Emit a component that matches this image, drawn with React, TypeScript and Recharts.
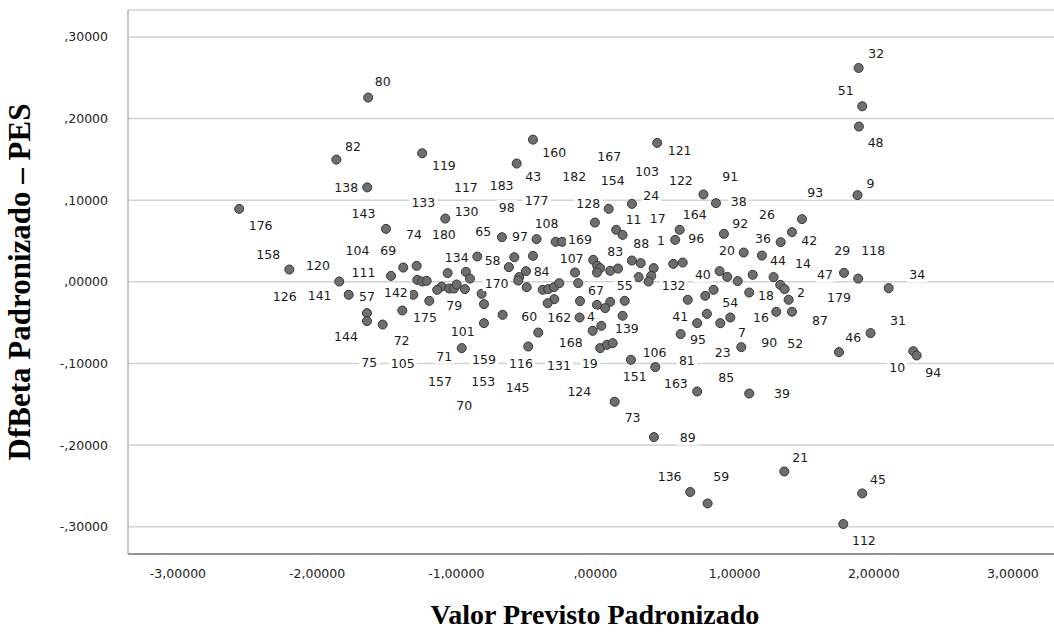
import React from 'react';
import { ScatterChart, Scatter, XAxis, YAxis, CartesianGrid } from 'recharts';

// Valor previsto padronizado (x) vs DfBeta padronizado de PES (y), one pair per case
const cases: [number, number][] = [
  [-1.633, 0.2257], [-1.862, 0.1497], [-1.64, 0.1157], [-1.245, 0.1576], [-0.449, 0.1742],
  [-0.566, 0.1449], [0.444, 0.1702], [1.891, 0.262], [1.917, 0.2151], [1.893, 0.1902],
  [1.883, 0.1062], [0.776, 0.1071], [0.866, 0.0964],
  [-2.56, 0.0894], [-2.2, 0.0151], [-1.841, 0.0004], [-1.773, -0.0159], [-1.642, -0.0383], [-1.642, -0.0481],
  [-1.079, 0.0775], [-1.505, 0.0649], [-0.672, 0.0547], [-0.423, 0.0523], [-0.286, 0.049],
  [-0.239, 0.049], [-0.004, 0.0726], [-0.849, 0.031], [-0.583, 0.0302], [-0.449, 0.0318],
  [-0.622, 0.018], [-0.499, 0.0131], [-0.548, 0.0058], [-0.555, 0.0016], [-0.494, -0.0065],
  [-1.381, 0.0175], [-1.285, 0.0196], [-1.469, 0.0073], [-1.28, 0.0024], [-1.245, 0.0004],
  [-1.213, 0.0012], [-1.062, 0.0107], [-0.931, 0.0122], [-0.902, 0.004], [-1.105, -0.0058],
  [-1.137, -0.0098], [-1.051, -0.0082], [-1.017, -0.0082], [-0.997, -0.0033], [-0.938, -0.0089],
  [-1.309, -0.0159], [-1.194, -0.0233], [-0.818, -0.0147], [-0.801, -0.0273], [-1.388, -0.0351],
  [-1.529, -0.0523], [-0.801, -0.0506], [-0.667, -0.0404], [-0.379, -0.0098], [-0.339, -0.0089],
  [-0.298, -0.0065], [-0.26, -0.0016], [-0.296, -0.0212], [-0.343, -0.0261], [-0.147, 0.0114],
  [-0.124, -0.0016], [-0.111, -0.0236], [-0.114, -0.0437], [-0.411, -0.0621], [-0.483, -0.0792],
  [-0.961, -0.0812], [-0.016, 0.0269], [0.013, 0.0196], [-0.02, -0.06],
  [0.262, 0.0955], [0.095, 0.0894], [0.149, 0.0637], [0.195, 0.0575], [0.605, 0.0637],
  [0.573, 0.0514], [0.923, 0.0588], [1.065, 0.0359], [1.196, 0.0322], [1.331, 0.0486],
  [1.412, 0.0609], [1.484, 0.0768], [0.034, 0.0168], [0.011, 0.0114], [0.106, 0.0135],
  [0.162, 0.0163], [0.262, 0.0261], [0.325, 0.0229], [0.418, 0.0168], [0.401, 0.0073],
  [0.382, 0.0004], [0.31, 0.0058], [0.559, 0.022], [0.627, 0.0236], [0.892, 0.0131],
  [0.947, 0.0061], [1.022, 0.0009], [1.13, 0.0086], [1.28, 0.0058], [1.328, -0.0037],
  [1.359, -0.0089], [1.388, -0.022], [1.412, -0.0367], [1.299, -0.0367], [1.105, -0.0131],
  [0.849, -0.0098], [0.789, -0.0171], [0.663, -0.022], [0.801, -0.0392], [0.969, -0.0437],
  [0.897, -0.0506], [0.731, -0.0506], [0.612, -0.064], [1.048, -0.08], [0.21, -0.0233],
  [0.106, -0.0245], [0.07, -0.0322], [0.011, -0.0282], [0.042, -0.0539], [0.195, -0.0416],
  [0.034, -0.0812], [0.083, -0.0771], [0.124, -0.0751], [0.255, -0.0955], [0.43, -0.1044],
  [0.138, -0.1469], [0.731, -0.1343], [1.105, -0.1368], [0.42, -0.1902], [1.357, -0.2323],
  [0.681, -0.2575], [0.806, -0.2715],
  [1.786, 0.011], [1.888, 0.004], [2.107, -0.0077], [1.977, -0.0628], [1.75, -0.0861],
  [2.284, -0.0849], [2.308, -0.0902],
  [1.917, -0.2592], [1.781, -0.2967],
];

// case number tags and where they sit (same units as the axes)
const caseTags: [number, number, number][] = [
  [80, -1.529, 0.245], [82, -1.742, 0.166], [138, -1.791, 0.115], [119, -1.089, 0.143],
  [160, -0.296, 0.158], [43, -0.447, 0.129], [182, -0.152, 0.129], [117, -0.931, 0.115],
  [183, -0.674, 0.118], [133, -1.237, 0.097], [177, -0.423, 0.1], [121, 0.605, 0.161],
  [167, 0.099, 0.153], [154, 0.124, 0.124], [103, 0.37, 0.135], [122, 0.614, 0.124],
  [91, 0.969, 0.129], [93, 1.579, 0.11], [24, 0.401, 0.106], [32, 2.018, 0.28],
  [51, 1.798, 0.235], [48, 2.013, 0.171], [9, 1.977, 0.12], [176, -2.406, 0.069],
  [158, -2.351, 0.034], [120, -1.994, 0.02], [126, -2.233, -0.018], [141, -1.982, -0.017],
  [57, -1.642, -0.018], [144, -1.793, -0.067], [143, -1.667, 0.084], [104, -1.71, 0.039],
  [111, -1.667, 0.011], [69, -1.489, 0.039], [130, -0.926, 0.086], [98, -0.638, 0.091],
  [128, -0.052, 0.096], [108, -0.351, 0.072], [74, -1.304, 0.058], [180, -1.089, 0.058],
  [65, -0.806, 0.062], [97, -0.542, 0.056], [169, -0.111, 0.052], [134, -0.997, 0.03],
  [58, -0.739, 0.026], [107, -0.171, 0.029], [84, -0.387, 0.013], [170, -0.71, -0.002],
  [142, -1.434, -0.013], [79, -1.015, -0.029], [175, -1.225, -0.044], [60, -0.476, -0.043],
  [162, -0.26, -0.044], [4, -0.032, -0.043], [101, -0.954, -0.061], [168, -0.178, -0.074],
  [72, -1.393, -0.072], [71, -1.086, -0.091], [159, -0.801, -0.095], [116, -0.535, -0.1],
  [131, -0.262, -0.102], [19, -0.04, -0.1], [75, -1.625, -0.099], [105, -1.385, -0.1],
  [157, -1.117, -0.122], [153, -0.806, -0.122], [145, -0.559, -0.129], [124, -0.116, -0.134],
  [70, -0.943, -0.151], [11, 0.274, 0.076], [17, 0.447, 0.078], [164, 0.713, 0.083],
  [38, 1.029, 0.098], [26, 1.232, 0.083], [92, 1.04, 0.071], [1, 0.471, 0.051],
  [96, 0.724, 0.053], [36, 1.204, 0.053], [42, 1.536, 0.051], [88, 0.329, 0.047],
  [83, 0.142, 0.037], [20, 0.945, 0.038], [44, 1.311, 0.026], [14, 1.491, 0.023],
  [47, 1.649, 0.009], [40, 0.772, 0.009], [132, 0.562, -0.004], [55, 0.21, -0.004],
  [67, 0.004, -0.01], [18, 1.225, -0.017], [2, 1.477, -0.013], [54, 0.969, -0.025],
  [16, 1.189, -0.044], [41, 0.609, -0.042], [139, 0.226, -0.057], [87, 1.613, -0.047],
  [7, 1.053, -0.062], [95, 0.737, -0.071], [90, 1.249, -0.074], [52, 1.436, -0.075],
  [23, 0.914, -0.087], [106, 0.425, -0.087], [81, 0.657, -0.096], [151, 0.282, -0.116],
  [163, 0.578, -0.125], [85, 0.94, -0.117], [39, 1.34, -0.137], [73, 0.267, -0.166],
  [89, 0.663, -0.191], [136, 0.533, -0.238], [59, 0.904, -0.238], [21, 1.472, -0.215],
  [29, 1.773, 0.038], [118, 1.996, 0.038], [34, 2.312, 0.009], [179, 1.75, -0.019],
  [31, 2.174, -0.047], [46, 1.852, -0.068], [10, 2.169, -0.105], [94, 2.427, -0.111],
  [45, 2.03, -0.242], [112, 1.929, -0.317],
];

const xTicks = [-3, -2, -1, 0, 1, 2, 3];
const xTickLabels = ['-3,00000', '-2,00000', '-1,00000', ',00000', '1,00000', '2,00000', '3,00000'];
const yTicks = [-0.3, -0.2, -0.1, 0, 0.1, 0.2, 0.3];
const yTickLabels = ['-,30000', '-,20000', '-,10000', ',00000', ',10000', ',20000', ',30000'];

const xTitle = 'Valor Previsto Padronizado';
const yTitle = 'DfBeta Padronizado – PES';

const pointData = cases.map(([x, y]) => ({ x, y }));
const tagData = caseTags.map(([id, x, y]) => ({ id, x, y }));

const tickFont = { fontFamily: 'DejaVu Sans', fontSize: 12.5, fill: '#222' };
const titleFont = { fontFamily: 'Liberation Serif', fontWeight: 700, fill: '#000' };

const pickLabel = (ticks: number[], labels: string[]) => (v: number) => {
  const i = ticks.findIndex((t) => Math.abs(t - v) < 1e-9);
  return i >= 0 ? labels[i] : '';
};

function CaseTag(props: any) {
  const { cx, cy, payload } = props;
  if (cx == null || cy == null) return null;
  const text = String(payload.id);
  const w = text.length * 8 + 4;
  return (
    <g>
      <rect x={cx - w / 2} y={cy - 7.5} width={w} height={15} fill="#fff" />
      <text
        x={cx}
        y={cy}
        textAnchor="middle"
        dominantBaseline="central"
        fontFamily="DejaVu Sans"
        fontSize={12.5}
        fill="#1a1a1a"
      >
        {text}
      </text>
    </g>
  );
}

export default function App() {
  return (
    <div style={{ position: 'absolute', left: 0, top: 0, background: '#fff' }}>
      <ScatterChart width={1054} height={632} margin={{ top: 10, right: 0, bottom: 0, left: 0 }}>
        <CartesianGrid vertical={false} stroke="#d2d2d2" strokeWidth={1.5} />
        <XAxis
          type="number"
          dataKey="x"
          domain={[-3.359, 3.295]}
          ticks={xTicks}
          allowDataOverflow
          height={78}
          tickLine={false}
          tickSize={0}
          tickMargin={15}
          axisLine={{ stroke: '#7c7c7c', strokeWidth: 1.5 }}
          tick={tickFont}
          tickFormatter={pickLabel(xTicks, xTickLabels)}
          label={{
            value: xTitle,
            position: 'insideBottom',
            offset: 8,
            dx: 4,
            style: { ...titleFont, fontSize: 28 },
          }}
        />
        <YAxis
          type="number"
          dataKey="y"
          domain={[-0.3334, 0.333]}
          ticks={yTicks}
          allowDataOverflow
          width={128}
          tickLine={false}
          tickSize={0}
          tickMargin={20}
          axisLine={{ stroke: '#b5b5b5', strokeWidth: 1.5 }}
          tick={tickFont}
          tickFormatter={pickLabel(yTicks, yTickLabels)}
          label={{
            value: yTitle,
            angle: -90,
            position: 'insideLeft',
            offset: 19,
            style: { ...titleFont, fontSize: 31, textAnchor: 'middle' },
          }}
        />
        <Scatter
          data={pointData}
          fill="#6e6e6e"
          stroke="#363636"
          strokeWidth={1}
          isAnimationActive={false}
        />
        <Scatter data={tagData} shape={CaseTag} isAnimationActive={false} />
      </ScatterChart>
    </div>
  );
}
